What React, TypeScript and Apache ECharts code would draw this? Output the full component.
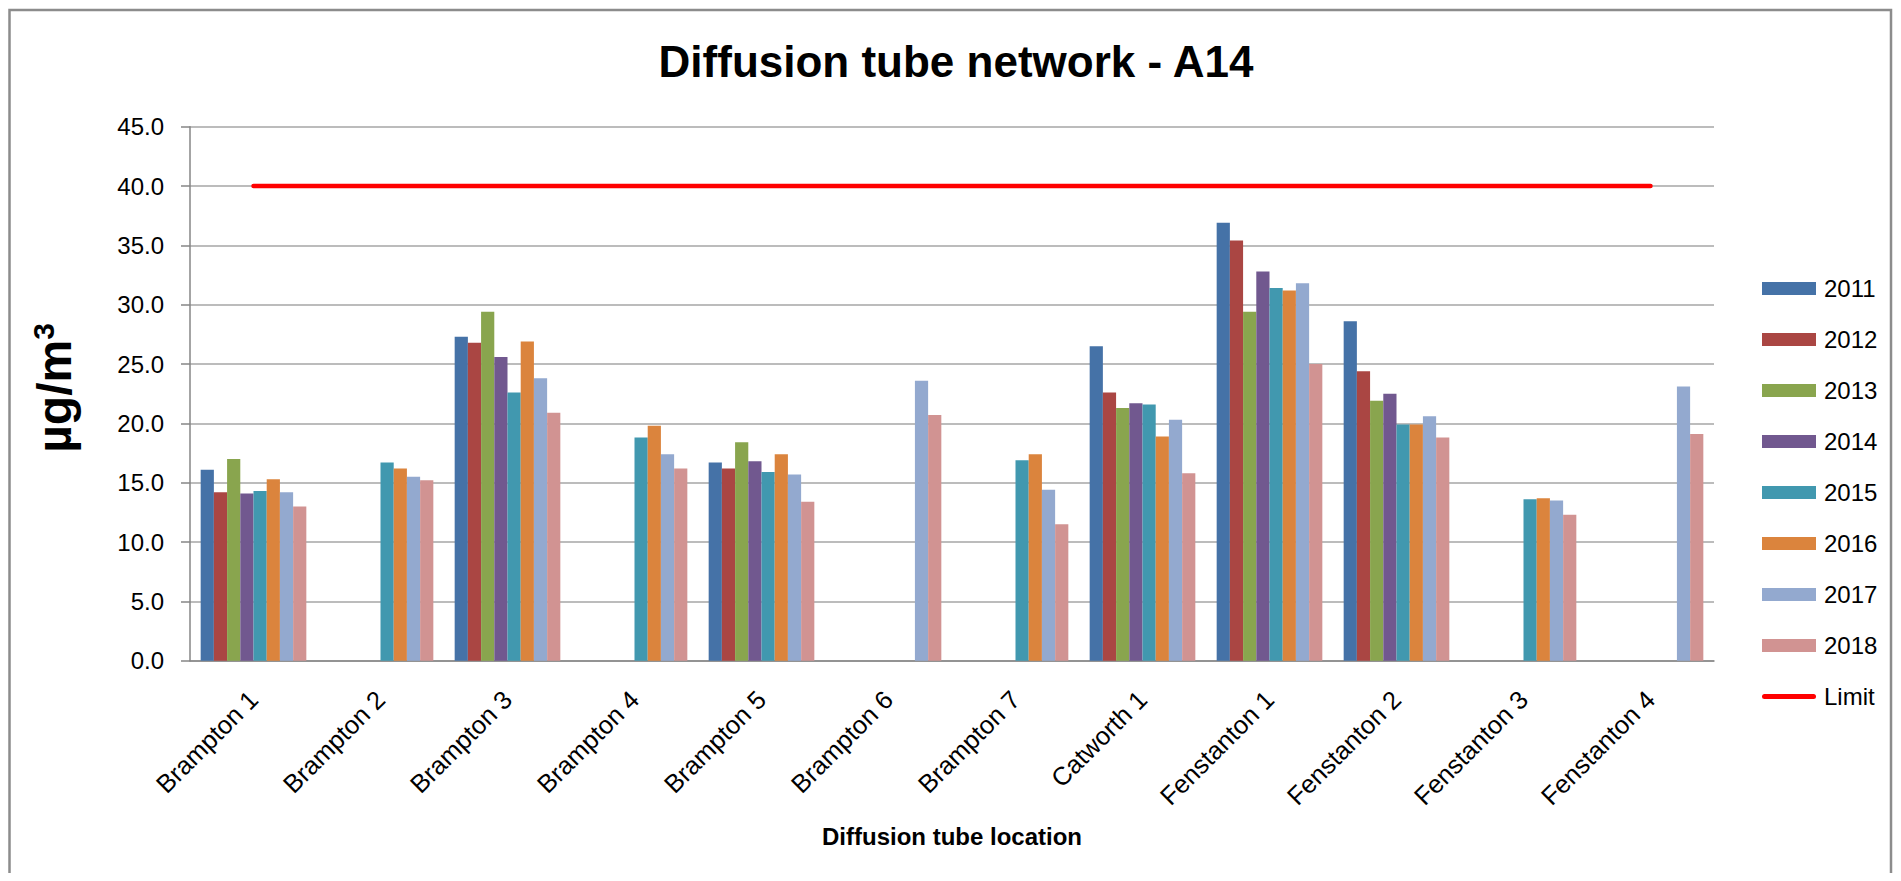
import { useEffect, useRef } from "react";
import * as echarts from "echarts";

const categories = [
  "Brampton 1",
  "Brampton 2",
  "Brampton 3",
  "Brampton 4",
  "Brampton 5",
  "Brampton 6",
  "Brampton 7",
  "Catworth 1",
  "Fenstanton 1",
  "Fenstanton 2",
  "Fenstanton 3",
  "Fenstanton 4",
];

const years = ["2011", "2012", "2013", "2014", "2015", "2016", "2017", "2018"];

const values2011 = [16.1, null, 27.3, null, 16.7, null, null, 26.5, 36.9, 28.6, null, null];
const values2012 = [14.2, null, 26.8, null, 16.2, null, null, 22.6, 35.4, 24.4, null, null];
const values2013 = [17.0, null, 29.4, null, 18.4, null, null, 21.3, 29.4, 21.9, null, null];
const values2014 = [14.1, null, 25.6, null, 16.8, null, null, 21.7, 32.8, 22.5, null, null];
const values2015 = [14.3, 16.7, 22.6, 18.8, 15.9, null, 16.9, 21.6, 31.4, 19.9, 13.6, null];
const values2016 = [15.3, 16.2, 26.9, 19.8, 17.4, null, 17.4, 18.9, 31.2, 19.9, 13.7, null];
const values2017 = [14.2, 15.5, 23.8, 17.4, 15.7, 23.6, 14.4, 20.3, 31.8, 20.6, 13.5, 23.1];
const values2018 = [13.0, 15.2, 20.9, 16.2, 13.4, 20.7, 11.5, 15.8, 25.0, 18.8, 12.3, 19.1];

const limitValues = [40, 40, 40, 40, 40, 40, 40, 40, 40, 40, 40, 40];

const yearValues = [
  values2011,
  values2012,
  values2013,
  values2014,
  values2015,
  values2016,
  values2017,
  values2018,
];

const yearColors = [
  "#4572A7",
  "#AA4643",
  "#89A54E",
  "#71588F",
  "#4198AF",
  "#DB843D",
  "#93A9CF",
  "#D19392",
];

const yTicks = { min: 0, max: 45, interval: 5 };

const FONT = '"Liberation Sans", Arial, sans-serif';

export default function App() {
  const ref = useRef<HTMLDivElement>(null);

  useEffect(() => {
    if (!ref.current) return;
    const chart = echarts.init(ref.current, null, { renderer: "svg" });

    const barSeries = years.map((y, i) => ({
      type: "bar",
      name: y,
      data: yearValues[i],
      barGap: "0%",
      barCategoryGap: "16.8%",
      itemStyle: { color: yearColors[i] },
    }));

    const legendData: any[] = [
      ...years.map((y) => ({ name: y, icon: "rect" })),
      {
        name: "Limit",
        icon: "path://M2.5,0 L51.5,0 A2.5,2.5 0 0 1 51.5,5 L2.5,5 A2.5,2.5 0 0 1 2.5,0 Z",
      },
    ];

    const option: any = {
      animation: false,
      backgroundColor: "#ffffff",
      textStyle: { fontFamily: FONT },
      title: {
        text: "Diffusion tube network - A14",
        left: 948,
        top: 31,
        padding: 0,
        textAlign: "center",
        textStyle: { fontSize: 44, fontWeight: "bold", color: "#000", fontFamily: FONT },
      },
      grid: { left: 182, top: 118.7, width: 1524, height: 534, containLabel: false },
      legend: {
        orient: "vertical",
        left: 1749,
        top: 263.5,
        itemWidth: 54,
        itemHeight: 13,
        itemGap: 27,
        textStyle: { fontSize: 24, color: "#000", lineHeight: 24, fontFamily: FONT, padding: [0, 0, 0, 3] },
        data: legendData,
      },
      xAxis: {
        type: "category",
        data: categories,
        axisLine: { show: true, lineStyle: { color: "#868686", width: 1.5 } },
        axisTick: { show: false },
        axisLabel: {
          rotate: 45,
          interval: 0,
          margin: 34.5,
          fontSize: 25.5,
          color: "#000",
          fontFamily: FONT,
          padding: [39, 0, 0, 0],
        },
        name: "Diffusion tube location",
        nameLocation: "middle",
        nameGap: 164,
        nameTextStyle: { fontSize: 24, fontWeight: "bold", color: "#000", fontFamily: FONT },
      },
      yAxis: {
        type: "value",
        min: yTicks.min,
        max: yTicks.max,
        interval: yTicks.interval,
        axisLine: { show: true, lineStyle: { color: "#868686", width: 1.5 } },
        axisTick: { show: true, length: 9, lineStyle: { color: "#868686", width: 1.5 } },
        axisLabel: {
          formatter: (v: number) => v.toFixed(1),
          fontSize: 24,
          color: "#000",
          margin: 26,
          fontFamily: FONT,
        },
        splitLine: { show: true, lineStyle: { color: "#A6A6A6", width: 1.5 } },
      },
      graphic: [
        {
          type: "polyline",
          silent: true,
          shape: {
            points: [
              [1.5, 870],
              [1.5, 2],
              [1883, 2],
              [1883, 870],
            ],
          },
          style: { stroke: "#8C8C8C", lineWidth: 2.5, fill: "none" },
        },
        {
          type: "text",
          x: 46,
          y: 380,
          rotation: Math.PI / 2,
          style: {
            text: "{b|µg/m}{s|3}",
            textAlign: "center",
            textVerticalAlign: "middle",
            fill: "#000",
            rich: {
              b: { font: `bold 48px ${FONT}`, fill: "#000", lineHeight: 52 },
              s: { font: `bold 30px ${FONT}`, fill: "#000", verticalAlign: "top", lineHeight: 30 },
            },
          },
        },
      ],
      series: [
        ...barSeries,
        {
          type: "line",
          name: "Limit",
          data: limitValues,
          symbol: "none",
          z: 5,
          lineStyle: { color: "#FF0000", width: 4.5, cap: "round" },
          itemStyle: { color: "#FF0000" },
        },
      ],
    };

    chart.setOption(option);
    return () => chart.dispose();
  }, []);

  return <div ref={ref} style={{ width: 1885, height: 865 }} />;
}
